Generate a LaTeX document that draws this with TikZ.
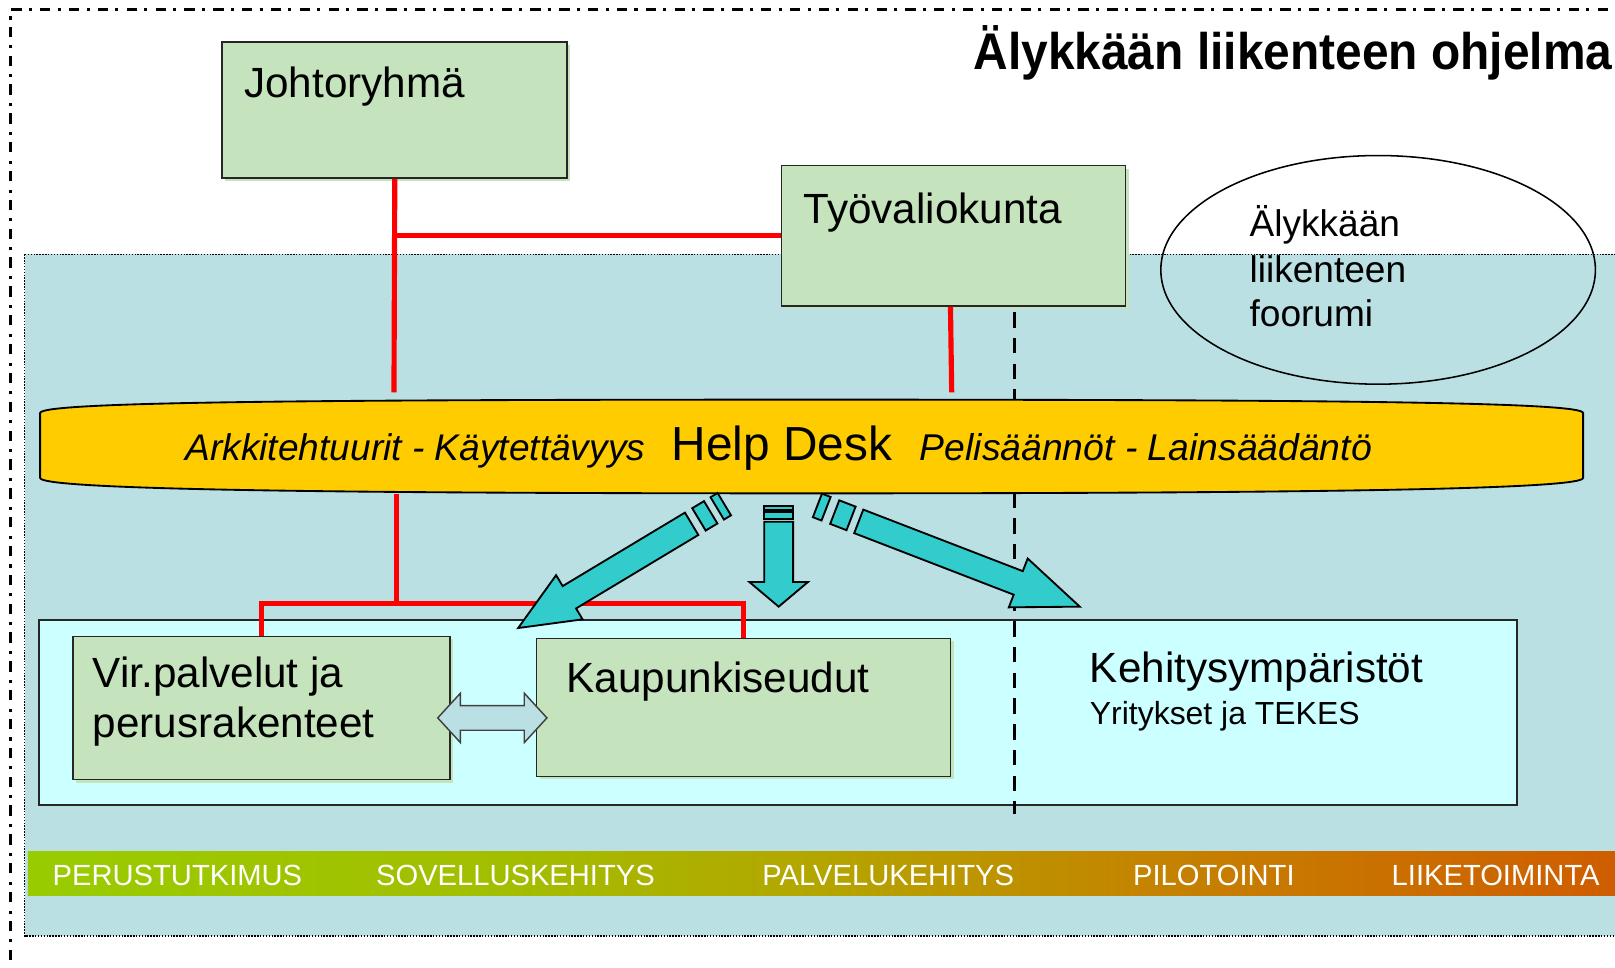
\documentclass[tikz,border=0pt]{standalone}
\usepackage{fontspec}
\setmainfont{Liberation Sans}
\usetikzlibrary{shapes.arrows,shapes.geometric,shadows,calc}
\definecolor{bgblue}{RGB}{186,224,227}
\definecolor{boxgreen}{RGB}{197,227,188}
\definecolor{envcyan}{RGB}{204,255,255}
\definecolor{hdyellow}{RGB}{255,204,0}
\definecolor{arrcyan}{RGB}{51,204,204}
\definecolor{ph1}{RGB}{153,204,0}
\definecolor{ph2}{RGB}{163,190,0}
\definecolor{ph3}{RGB}{180,165,0}
\definecolor{ph4}{RGB}{196,132,0}
\definecolor{ph5}{RGB}{207,93,0}
\pgfdeclarehorizontalshading{phasebar}{100bp}{color(0bp)=(ph1); color(25bp)=(ph1); color(40bp)=(ph2); color(50bp)=(ph3); color(60bp)=(ph4); color(75bp)=(ph5); color(100bp)=(ph5)}
\newcommand{\setfs}[1]{\fontsize{#1}{#1}\selectfont}
\begin{document}
\begin{tikzpicture}[x=1pt,y=-1pt,
  gbox/.style={draw=black!85, line width=1.6pt, fill=boxgreen, anchor=north west, inner sep=0pt,
    drop shadow={shadow xshift=3pt, shadow yshift=-3pt, fill=boxgreen, opacity=1}},
  lab/.style={anchor=base west, inner sep=0pt, font=\setfs{41}},
  redline/.style={draw=red, line width=5pt},
  cyanarr/.style={draw=black, line width=1.8pt, fill=arrcyan, line join=miter},
  bartext/.style={anchor=base west, inner sep=0pt, text=white, font=\setfs{28.3}}]
\useasboundingbox (0,0) rectangle (1568,939);
\clip (0,0) rectangle (1568,939);
% background
\fill[white] (0,0) rectangle (1568,939);
\draw[fill=bgblue, line width=1.5pt, dash pattern=on 1.4pt off 1.4pt] (24,247) rectangle (1600,909);
% outer dash-dot frame
\draw[line width=3.2pt, dash pattern=on 10pt off 7pt on 3pt off 8pt] (10,960) -- (10,9) -- (1600,9);
% title
\node[anchor=base west, inner sep=0pt] (title) at (945,67) {\scalebox{0.93}[1]{\setfs{50}\bfseries Älykkään liikenteen ohjelma}};
% ellipse
\node[draw=black, line width=1.5pt, ellipse, minimum width=422pt, minimum height=222pt, inner sep=0pt] (forum) at (1338,262) {};
\node[anchor=base west, inner sep=0pt, font=\setfs{36}] (forumtxt) at (1213,230) {Älykkään};
\node[anchor=base west, inner sep=0pt, font=\setfs{36}] (forumtxt2) at (1213,274) {liikenteen};
\node[anchor=base west, inner sep=0pt, font=\setfs{36}] (forumtxt3) at (1213,317) {foorumi};
% coordinates on help desk
\coordinate (hdJ) at (382.5,381);
\coordinate (hdT) at (924,381);
\coordinate (hdB) at (385,480);
\coordinate (jn) at (385,586);
% upper boxes
\node[gbox, minimum width=335pt, minimum height=132pt] (joh) at (215,40) {};
\node[gbox, minimum width=334pt, minimum height=136pt] (tyo) at (758,160) {};
\draw[redline] (joh.south) -- (hdJ);
\draw[redline] (tyo.west) -- (tyo.west -| joh.south);
\draw[redline] ([xshift=-3pt]tyo.south) -- (hdT);
\node[lab] (johtxt) at (237,95) {Johtoryhmä};
\node[lab] (tyotxt) at (780,217) {Työvaliokunta};
% environment box
\node[draw=black!85, line width=1.6pt, fill=envcyan, anchor=north west, inner sep=0pt, minimum width=1435pt, minimum height=180pt] (env) at (37,601) {};
\node[gbox, minimum width=366pt, minimum height=139pt] (vir) at (70,617) {};
\node[gbox, minimum width=402pt, minimum height=134pt] (kau) at (520,619) {};
\node[lab] (virtxt) at (90,667) {Vir.palvelut ja};
\node[lab] (virtxt2) at (90,716) {perusrakenteet};
\node[lab] (kautxt) at (550,672) {Kaupunkiseudut};
\node[lab] (kehtxt) at (1058,663) {Kehitysympäristöt};
\node[anchor=base west, inner sep=0pt, font=\setfs{31}] (yrtxt) at (1058,703) {Yritykset ja TEKES};
% dashed divider
\coordinate (dtop) at (985,303);
\coordinate (dbot) at (985,790);
\draw[line width=3.8pt, dash pattern=on 15pt off 10pt] (dtop) -- (dbot);
% lower red connectors
\draw[redline] (hdB) -- (jn);
\draw[redline, line join=miter] (vir.north) -- (vir.north |- jn) -- (kau.north |- jn) -- (kau.north);
% double arrow between the two boxes
\coordinate (dblc) at (478,697);
\begin{scope}[shift={(dblc)}]
\draw[draw=black!75, line width=1.4pt, fill=bgblue, line join=miter] (-53,0) -- (-31,-24) -- (-31,-12) -- (31,-12) -- (31,-24) -- (53,0) -- (31,24) -- (31,12) -- (-31,12) -- (-31,24) -- cycle;
\end{scope}
% help desk barrel
\draw[fill=hdyellow, draw=black, line width=1.8pt] (39,401) .. controls (39,391) and (250,388) .. (788,388) .. controls (1326,388) and (1537,391) .. (1537,401) -- (1537,464) .. controls (1537,474) and (1326,479) .. (788,479) .. controls (250,479) and (39,474) .. (39,464) -- cycle;
\node[anchor=base west, inner sep=0pt, font=\setfs{36}\itshape] (hd1) at (180,447) {Arkkitehtuurit - Käytettävyys};
\node[anchor=base west, inner sep=0pt, font=\setfs{46.4}] (hd2) at (652,447) {Help Desk};
\node[anchor=base west, inner sep=0pt, font=\setfs{36.2}\itshape] (hd3) at (893,447) {Pelisäännöt - Lainsäädäntö};
% middle arrow
\begin{scope}[shift={(756,506.5)}, rotate=-90]
\draw[cyanarr] (0,-14) -- (58.5,-14) -- (58.5,-28.5) -- (82.5,0) -- (58.5,28.5) -- (58.5,14) -- (0,14) -- cycle;
\draw[cyanarr] (-9.5,-14) rectangle (-2.5,14);
\draw[cyanarr] (-15.5,-14) rectangle (-11.5,14);
\end{scope}
% right arrow
\begin{scope}[shift={(833.75,506.2)}, rotate=-21.1]
\draw[cyanarr] (0,-12.25) -- (166,-12.25) -- (166,-25.4) -- (230,0) -- (166,25.4) -- (166,12.25) -- (0,12.25) -- cycle;
\draw[cyanarr] (-25,-12.25) rectangle (-8,12.25);
\draw[cyanarr] (-43,-12.25) rectangle (-34,12.25);
\end{scope}
% left arrow
\begin{scope}[shift={(671.5,508.55)}, rotate=-149]
\draw[cyanarr] (0,-12.65) -- (138.5,-12.65) -- (138.5,-25) -- (196.5,0) -- (138.5,25) -- (138.5,12.65) -- (0,12.65) -- cycle;
\draw[cyanarr] (-21.6,-12.65) rectangle (-8.3,12.65);
\draw[cyanarr] (-37,-12.65) rectangle (-29,12.65);
\end{scope}
% phase bar
\shade[shading=phasebar] (27,827) rectangle (1568,869);
\node[bartext] (b1) at (51,860) {PERUSTUTKIMUS};
\node[bartext] (b2) at (365,860) {SOVELLUSKEHITYS};
\node[bartext] (b3) at (740,860) {PALVELUKEHITYS};
\node[bartext] (b4) at (1100,860) {PILOTOINTI};
\node[bartext] (b5) at (1351,860) {LIIKETOIMINTA};
\end{tikzpicture}
\end{document}
